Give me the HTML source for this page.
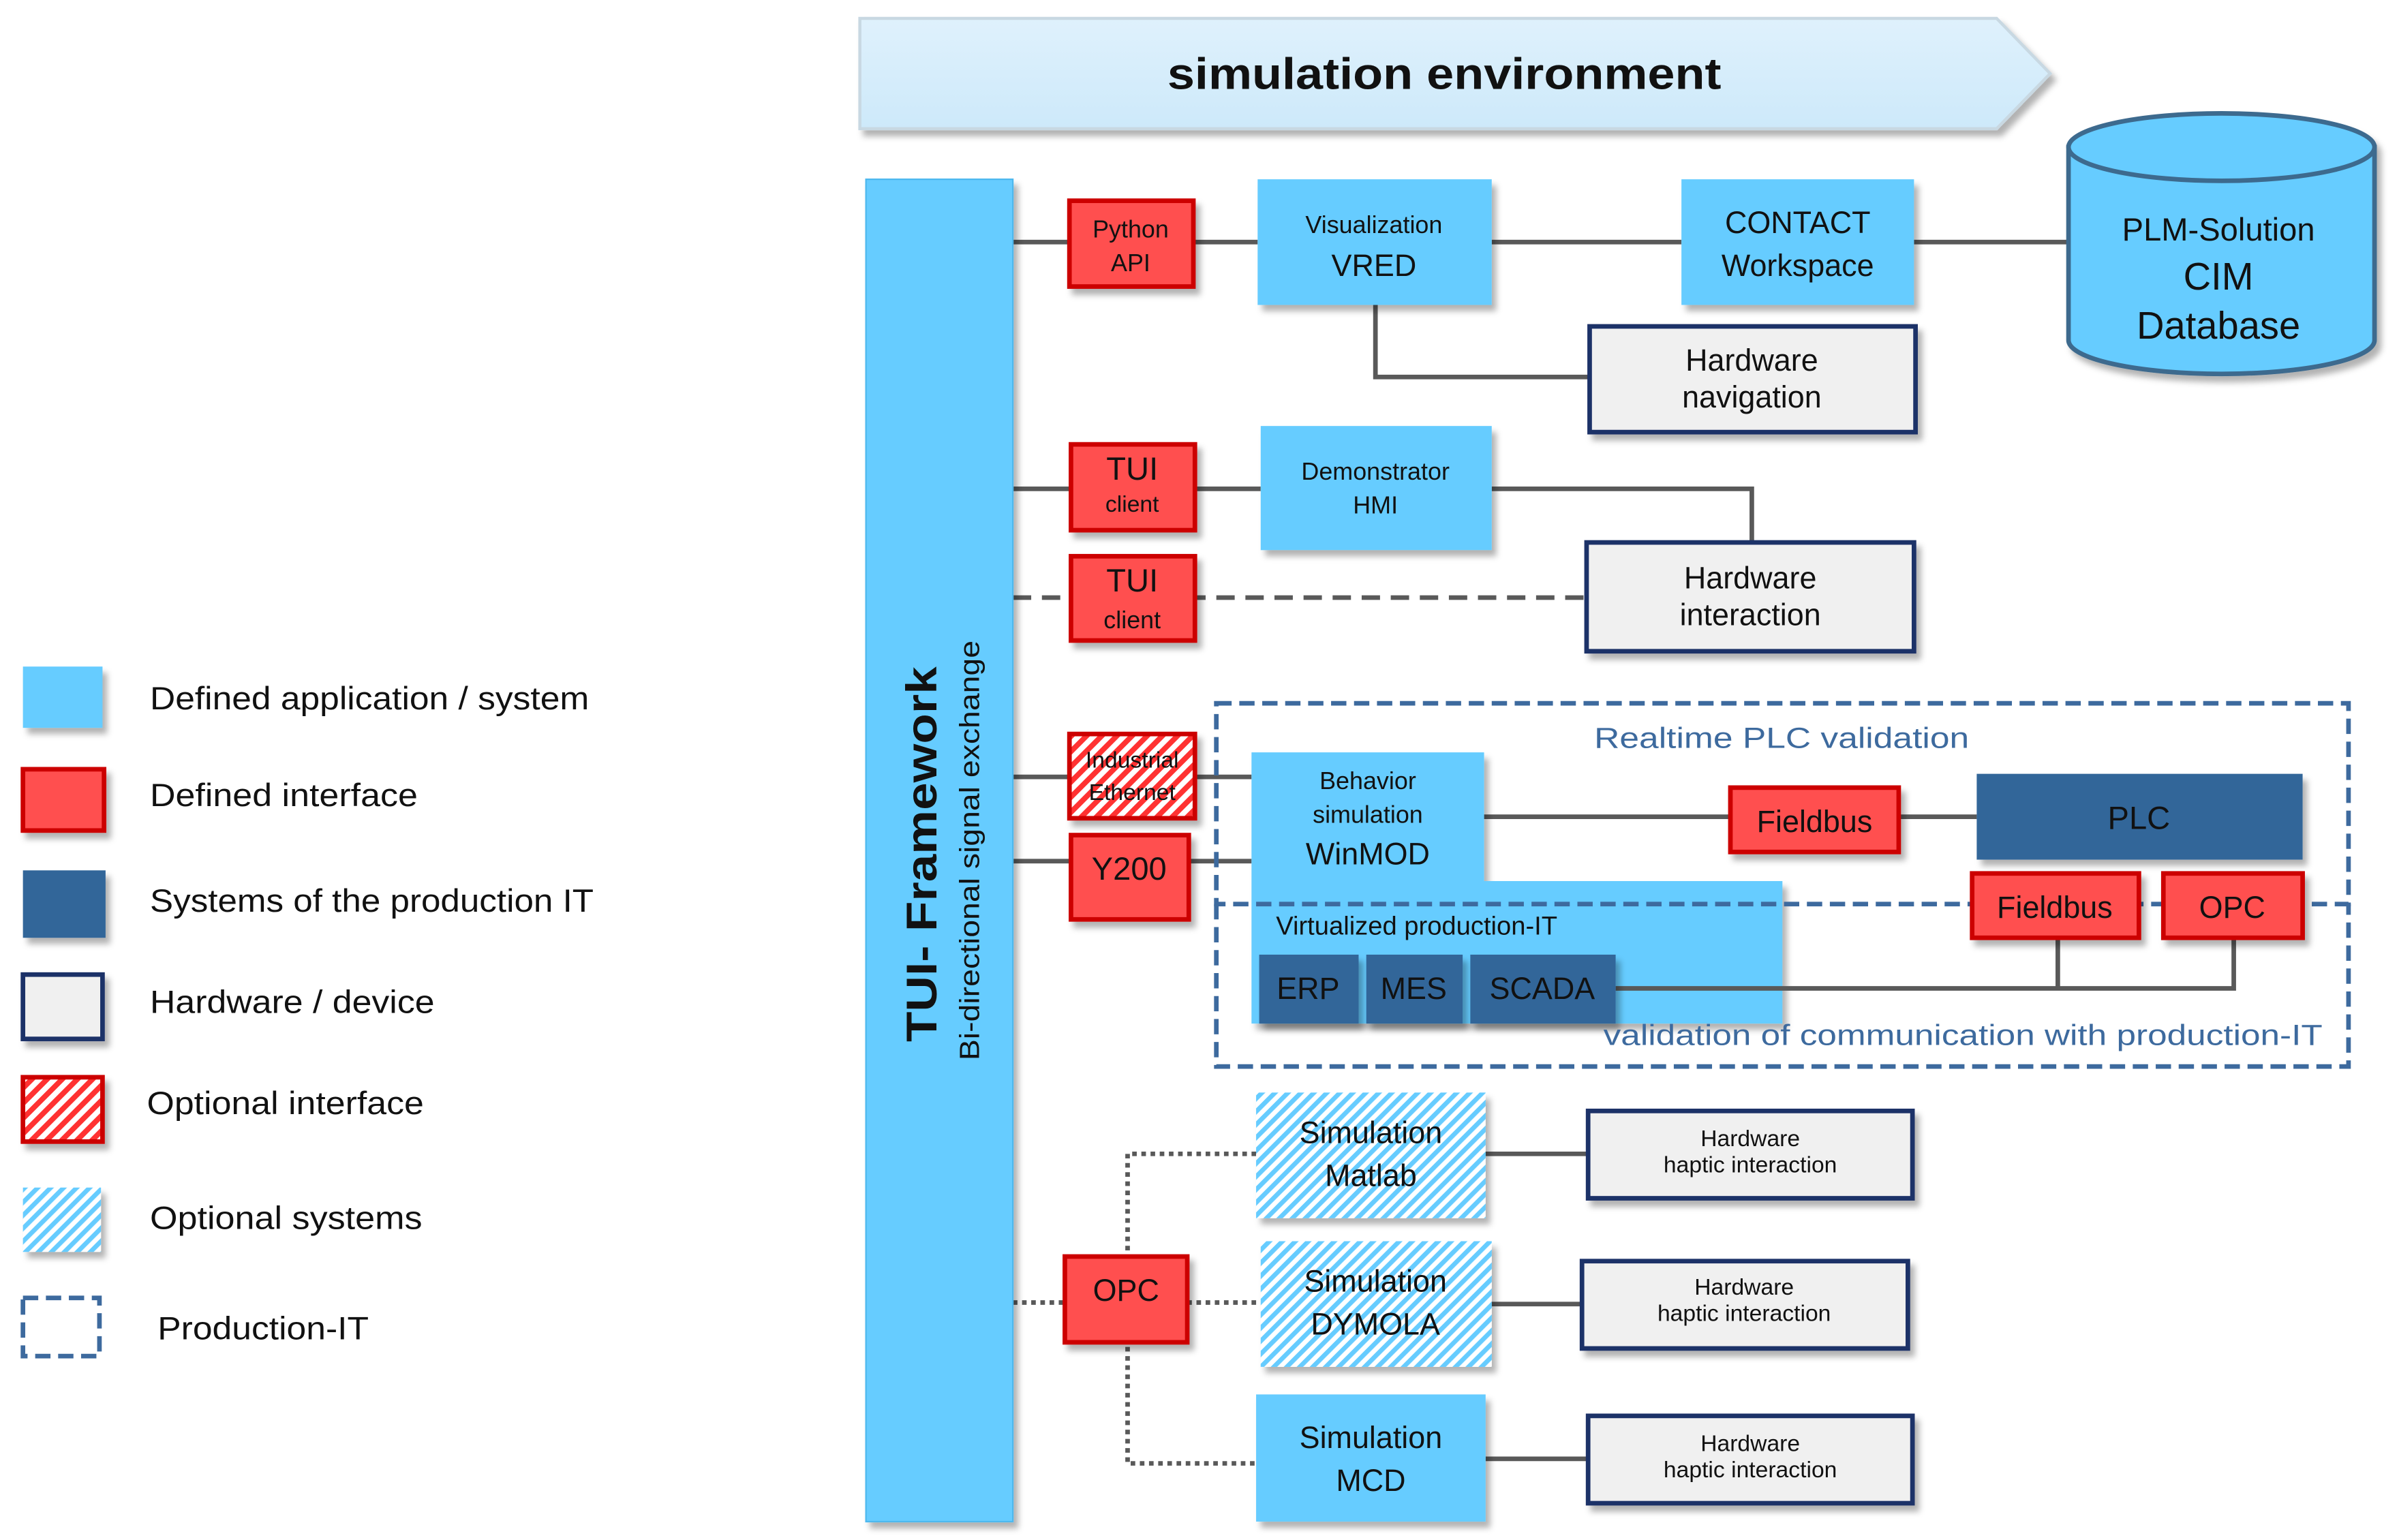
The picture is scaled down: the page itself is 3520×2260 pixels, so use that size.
<!DOCTYPE html>
<html><head><meta charset="utf-8"><style>
html,body{margin:0;padding:0;background:#fff;}
svg{display:block;}
text{font-family:"Liberation Sans",sans-serif;fill:#111;}
</style></head><body>
<svg width="3520" height="2260" viewBox="0 0 1568 1005" preserveAspectRatio="none" xmlns="http://www.w3.org/2000/svg">
<defs>
<pattern id="hr" width="7" height="7" patternUnits="userSpaceOnUse" patternTransform="rotate(45)">
<rect width="7" height="7" fill="#fff"/><rect width="3.5" height="7" fill="#ff3333"/></pattern>
<pattern id="hb" width="6" height="6" patternUnits="userSpaceOnUse" patternTransform="rotate(45)">
<rect width="6" height="6" fill="#fff"/><rect width="3" height="6" fill="#66ccff"/></pattern>
<linearGradient id="bg" x1="0" y1="0" x2="0" y2="1"><stop offset="0" stop-color="#dff1fc"/><stop offset="1" stop-color="#cde9fa"/></linearGradient>
<filter id="sh" x="-10%" y="-10%" width="130%" height="130%"><feDropShadow dx="3" dy="4" stdDeviation="2" flood-color="#000" flood-opacity="0.3"/></filter>
</defs>

<!-- banner -->
<polygon points="562,12 1305,12 1340,48 1305,84 562,84" fill="url(#bg)" stroke="#c8d8e2" stroke-width="2" filter="url(#sh)"/>
<text x="763" y="58" font-size="29" font-weight="bold" textLength="362" lengthAdjust="spacingAndGlyphs">simulation environment</text>

<!-- connectors -->
<g stroke="#595959" stroke-width="3" fill="none">
<line x1="662" y1="158" x2="700" y2="158"/>
<line x1="780" y1="158" x2="822" y2="158"/>
<line x1="975" y1="158" x2="1099" y2="158"/>
<line x1="1251" y1="158" x2="1352" y2="158"/>
<polyline points="899,199 899,246 1039,246"/>
<line x1="662" y1="319" x2="700" y2="319"/>
<line x1="781" y1="319" x2="824" y2="319"/>
<polyline points="975,319 1145,319 1145,354"/>
<line x1="662" y1="507" x2="818" y2="507"/>
<line x1="662" y1="562" x2="818" y2="562"/>
<line x1="970" y1="533" x2="1131" y2="533"/>
<line x1="1241" y1="533" x2="1292" y2="533"/>
<line x1="971" y1="753" x2="1038" y2="753"/>
<line x1="975" y1="851" x2="1034" y2="851"/>
<line x1="971" y1="952" x2="1038" y2="952"/>
</g>
<line x1="662" y1="390" x2="1037" y2="390" stroke="#595959" stroke-width="3" stroke-dasharray="12,7"/>
<g stroke="#595959" stroke-width="3" stroke-dasharray="3,3" fill="none">
<line x1="662" y1="850" x2="696" y2="850"/>
<line x1="776" y1="850" x2="824" y2="850"/>
<polyline points="821,753 737,753 737,955 821,955"/>
</g>

<!-- TUI bar -->
<rect x="566" y="117" width="96" height="876" fill="#66ccff" stroke="#4db8ee" stroke-width="1" filter="url(#sh)"/>
<text transform="translate(612,680) rotate(-90)" font-size="28" font-weight="bold" textLength="245" lengthAdjust="spacingAndGlyphs">TUI- Framework</text>
<text transform="translate(640,692) rotate(-90)" font-size="18" textLength="274" lengthAdjust="spacingAndGlyphs">Bi-directional signal exchange</text>

<!-- light blue boxes -->
<g fill="#66ccff" filter="url(#sh)">
<rect x="822" y="117" width="153" height="82"/>
<rect x="1099" y="117" width="152" height="82"/>
<rect x="824" y="278" width="151" height="81"/>
<path d="M818,491 H970 V575 H1165 V668 H818 Z"/>
<rect x="821" y="910" width="150" height="83"/>
</g>
<rect x="821" y="713" width="150" height="82" fill="url(#hb)" filter="url(#sh)"/>
<rect x="824" y="810" width="151" height="82" fill="url(#hb)" filter="url(#sh)"/>

<!-- dashed regions -->
<g fill="none" stroke="#3d6a9e" stroke-width="3" stroke-dasharray="10,5">
<rect x="795" y="459" width="740" height="131"/>
<path d="M795,590 V696 H1535 V590"/>
</g>

<g stroke="#595959" stroke-width="3" fill="none">
<polyline points="1056,645 1460,645 1460,612"/>
<line x1="1345" y1="645" x2="1345" y2="612"/>
</g>

<text x="898" y="152" font-size="16" text-anchor="middle">Visualization</text>
<text x="898" y="180" font-size="20" text-anchor="middle">VRED</text>
<text x="1175" y="152" font-size="20" text-anchor="middle">CONTACT</text>
<text x="1175" y="180" font-size="20" text-anchor="middle">Workspace</text>
<text x="899" y="313" font-size="16" text-anchor="middle">Demonstrator</text>
<text x="899" y="335" font-size="16" text-anchor="middle">HMI</text>
<text x="894" y="515" font-size="16" text-anchor="middle">Behavior</text>
<text x="894" y="537" font-size="16" text-anchor="middle">simulation</text>
<text x="894" y="564" font-size="20" text-anchor="middle">WinMOD</text>
<text x="834" y="610" font-size="17">Virtualized production-IT</text>
<text x="896" y="746" font-size="20" text-anchor="middle">Simulation</text>
<text x="896" y="774" font-size="20" text-anchor="middle">Matlab</text>
<text x="899" y="843" font-size="20" text-anchor="middle">Simulation</text>
<text x="899" y="871" font-size="20" text-anchor="middle">DYMOLA</text>
<text x="896" y="945" font-size="20" text-anchor="middle">Simulation</text>
<text x="896" y="973" font-size="20" text-anchor="middle">MCD</text>

<!-- cylinder -->
<g filter="url(#sh)">
<path d="M1352,96 V222 A100,22 0 0 0 1552,222 V96 Z" fill="#66ccff" stroke="#3d6a8e" stroke-width="3"/>
<ellipse cx="1452" cy="96" rx="100" ry="22" fill="#66ccff" stroke="#3d6a8e" stroke-width="3"/>
</g>
<text x="1450" y="157" font-size="21" text-anchor="middle">PLM-Solution</text>
<text x="1450" y="189" font-size="25" text-anchor="middle">CIM</text>
<text x="1450" y="221" font-size="25" text-anchor="middle">Database</text>

<!-- hardware boxes -->
<g fill="#f0f0f0" stroke="#1f3068" stroke-width="3" filter="url(#sh)">
<rect x="1039" y="213" width="213" height="69"/>
<rect x="1037" y="354" width="214" height="71"/>
<rect x="1038" y="725" width="212" height="57"/>
<rect x="1034" y="823" width="213" height="57"/>
<rect x="1038" y="924" width="212" height="57"/>
</g>
<text x="1145" y="242" font-size="20" text-anchor="middle">Hardware</text>
<text x="1145" y="266" font-size="20" text-anchor="middle">navigation</text>
<text x="1144" y="384" font-size="20" text-anchor="middle">Hardware</text>
<text x="1144" y="408" font-size="20" text-anchor="middle">interaction</text>
<g font-size="15" text-anchor="middle">
<text x="1144" y="748">Hardware</text><text x="1144" y="765">haptic interaction</text>
<text x="1140" y="845">Hardware</text><text x="1140" y="862">haptic interaction</text>
<text x="1144" y="947">Hardware</text><text x="1144" y="964">haptic interaction</text>
</g>

<!-- red interfaces -->
<g fill="#ff5050" stroke="#cc0000" stroke-width="3" filter="url(#sh)">
<rect x="699" y="131" width="81" height="56"/>
<rect x="700" y="290" width="81" height="56"/>
<rect x="700" y="363" width="81" height="55"/>
<rect x="700" y="545" width="77" height="55"/>
<rect x="1131" y="514" width="110" height="42"/>
<rect x="1289" y="570" width="109" height="42"/>
<rect x="1414" y="570" width="91" height="42"/>
<rect x="696" y="820" width="80" height="56"/>
</g>
<rect x="699" y="479" width="82" height="55" fill="url(#hr)" stroke="#cc0000" stroke-width="3" filter="url(#sh)"/>
<text x="739" y="155" font-size="16" text-anchor="middle">Python</text>
<text x="739" y="177" font-size="16" text-anchor="middle">API</text>
<text x="740" y="313" font-size="21" text-anchor="middle">TUI</text>
<text x="740" y="334" font-size="15" text-anchor="middle">client</text>
<text x="740" y="386" font-size="21" text-anchor="middle">TUI</text>
<text x="740" y="410" font-size="16" text-anchor="middle">client</text>
<text x="740" y="501" font-size="15" text-anchor="middle">Industrial</text>
<text x="740" y="522" font-size="15" text-anchor="middle">Ethernet</text>
<text x="738" y="574" font-size="21" text-anchor="middle">Y200</text>
<text x="1186" y="543" font-size="20" text-anchor="middle">Fieldbus</text>
<text x="1343" y="599" font-size="20" text-anchor="middle">Fieldbus</text>
<text x="1459" y="599" font-size="20" text-anchor="middle">OPC</text>
<text x="736" y="849" font-size="20" text-anchor="middle">OPC</text>

<!-- dark blue -->
<g fill="#336699" filter="url(#sh)">
<rect x="1292" y="505" width="213" height="56"/>
<rect x="823" y="623" width="65" height="45"/>
<rect x="893" y="623" width="63" height="45"/>
<rect x="961" y="623" width="95" height="45"/>
</g>
<text x="1398" y="541" font-size="21" text-anchor="middle">PLC</text>
<text x="855" y="652" font-size="20" text-anchor="middle">ERP</text>
<text x="924" y="652" font-size="20" text-anchor="middle">MES</text>
<text x="1008" y="652" font-size="20" text-anchor="middle">SCADA</text>

<text x="1042" y="488" font-size="19" style="fill:#3d6a9e" textLength="245" lengthAdjust="spacingAndGlyphs">Realtime PLC validation</text>
<text x="1048" y="682" font-size="19" style="fill:#3d6a9e" textLength="470" lengthAdjust="spacingAndGlyphs">validation of communication with production-IT</text>

<!-- legend -->
<g filter="url(#sh)">
<rect x="15" y="435" width="52" height="40" fill="#66ccff"/>
<rect x="15" y="502" width="53" height="40" fill="#ff5050" stroke="#cc0000" stroke-width="3"/>
<rect x="15" y="568" width="54" height="44" fill="#336699"/>
<rect x="15" y="636" width="52" height="42" fill="#f0f0f0" stroke="#1f3068" stroke-width="3"/>
<rect x="15" y="703" width="52" height="42" fill="url(#hr)" stroke="#cc0000" stroke-width="3"/>
<rect x="15" y="775" width="51" height="42" fill="url(#hb)"/>
</g>
<rect x="15" y="847" width="50" height="38" fill="none" stroke="#3d6a9e" stroke-width="3" stroke-dasharray="10,5"/>
<g font-size="21" lengthAdjust="spacingAndGlyphs">
<text x="98" y="463" textLength="287" lengthAdjust="spacingAndGlyphs">Defined application / system</text>
<text x="98" y="526" textLength="175" lengthAdjust="spacingAndGlyphs">Defined interface</text>
<text x="98" y="595" textLength="290" lengthAdjust="spacingAndGlyphs">Systems of the production IT</text>
<text x="98" y="661" textLength="186" lengthAdjust="spacingAndGlyphs">Hardware / device</text>
<text x="96" y="727" textLength="181" lengthAdjust="spacingAndGlyphs">Optional interface</text>
<text x="98" y="802" textLength="178" lengthAdjust="spacingAndGlyphs">Optional systems</text>
<text x="103" y="874" textLength="138" lengthAdjust="spacingAndGlyphs">Production-IT</text>
</g>
</svg>
</body></html>
